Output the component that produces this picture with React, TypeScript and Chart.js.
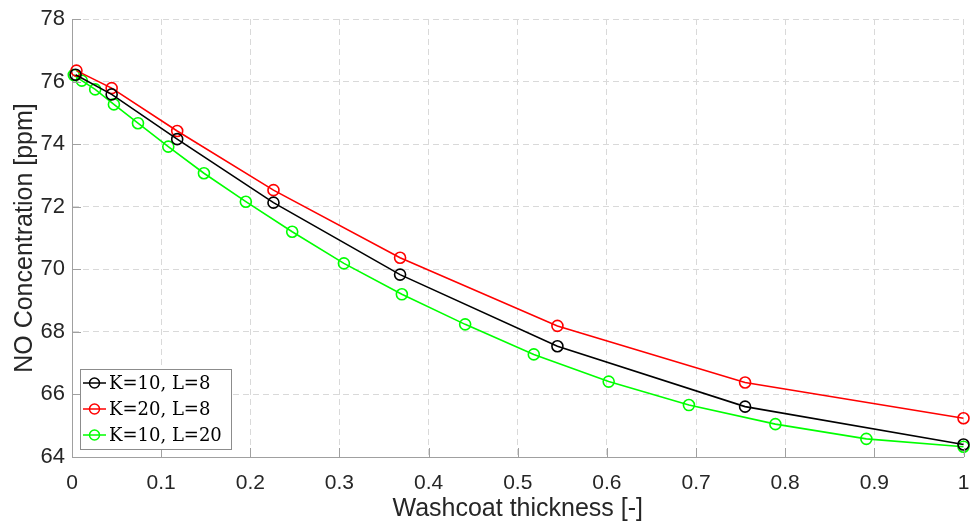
import React, { useEffect, useRef } from "react";
import { Chart, registerables } from "chart.js";

Chart.register(...registerables);

const seriesLabels = ["K=10, L=8", "K=20, L=8", "K=10, L=20"];
const seriesColors = ["#000000", "#ff0000", "#00ff00"];

const blackX = [0.004, 0.0445, 0.118, 0.226, 0.368, 0.5445, 0.755, 1.0];
const blackY = [76.22, 75.59, 74.16, 72.13, 69.83, 67.54, 65.61, 64.4];

const redX = [0.005, 0.0445, 0.118, 0.226, 0.368, 0.5445, 0.755, 1.0];
const redY = [76.35, 75.79, 74.42, 72.53, 70.37, 68.19, 66.38, 65.24];

const greenX = [0.002, 0.011, 0.026, 0.047, 0.074, 0.108, 0.148, 0.195, 0.247, 0.305, 0.37, 0.441, 0.518, 0.602, 0.692, 0.789, 0.891, 1.0];
const greenY = [76.21, 76.03, 75.75, 75.27, 74.67, 73.92, 73.07, 72.16, 71.2, 70.19, 69.2, 68.24, 67.28, 66.41, 65.66, 65.05, 64.58, 64.33];

const xTicks = [0, 0.1, 0.2, 0.3, 0.4, 0.5, 0.6, 0.7, 0.8, 0.9, 1];
const yTicks = [64, 66, 68, 70, 72, 74, 76, 78];

const xTitle = "Washcoat thickness [-]";
const yTitle = "NO Concentration [ppm]";

const AXIS_COLOR = "#a0a0a0";
const TEXT_COLOR = "#262626";
const SANS = "'Liberation Sans', Arial, sans-serif";

const toPts = (xs: number[], ys: number[]) => xs.map((x, i) => ({ x, y: ys[i] }));

const decorPlugin = {
  id: "decor",
  afterDraw(chart: any) {
    const ctx = chart.ctx;
    const { left, right, top, bottom } = chart.chartArea;
    const xs = chart.scales.x;
    const ys = chart.scales.y;
    ctx.save();
    // inward tick marks
    ctx.strokeStyle = AXIS_COLOR;
    ctx.lineWidth = 1;
    ctx.beginPath();
    xTicks.forEach((t) => {
      const px = Math.round(xs.getPixelForValue(t)) + 0.5;
      ctx.moveTo(px, bottom);
      ctx.lineTo(px, bottom - 9);
    });
    yTicks.forEach((t) => {
      const py = Math.round(ys.getPixelForValue(t)) + 0.5;
      ctx.moveTo(left, py);
      ctx.lineTo(left + 9, py);
    });
    ctx.stroke();

    // axis titles
    ctx.fillStyle = TEXT_COLOR;
    ctx.font = `25px ${SANS}`;
    ctx.textAlign = "center";
    ctx.textBaseline = "middle";
    ctx.fillText(xTitle, (left + right) / 2, 509);
    ctx.save();
    ctx.translate(25, (top + bottom) / 2);
    ctx.rotate(-Math.PI / 2);
    ctx.fillText(yTitle, 0, 0);
    ctx.restore();

    // legend
    const bx = 80.5, by = 369.5, bw = 151, bh = 80;
    ctx.fillStyle = "#ffffff";
    ctx.fillRect(bx, by, bw, bh);
    ctx.strokeStyle = "#8c8c8c";
    ctx.lineWidth = 1;
    ctx.strokeRect(bx, by, bw, bh);
    ctx.font = "18px 'DejaVu Serif', serif";
    ctx.textAlign = "left";
    ctx.textBaseline = "middle";
    chart.data.datasets.forEach((ds: any, i: number) => {
      const cy = 383 + i * 26;
      ctx.strokeStyle = ds.borderColor;
      ctx.lineWidth = 1.5;
      ctx.beginPath();
      ctx.moveTo(83, cy);
      ctx.lineTo(106, cy);
      ctx.stroke();
      ctx.beginPath();
      ctx.arc(94.5, cy, 5, 0, Math.PI * 2);
      ctx.stroke();
      ctx.fillStyle = "#000000";
      ctx.fillText(ds.label, 109, cy + 1);
    });
    ctx.restore();
  },
};

export default function App() {
  const ref = useRef<HTMLCanvasElement | null>(null);

  useEffect(() => {
    document.body.style.margin = "0";
    const canvas = ref.current;
    if (!canvas) return;
    const mk = (i: number, xs: number[], ys: number[]) => ({
      label: seriesLabels[i],
      data: toPts(xs, ys),
      borderColor: seriesColors[i],
      backgroundColor: "rgba(0,0,0,0)",
      borderWidth: 1.6,
      pointRadius: 5.5,
      pointBorderWidth: 1.6,
      pointBackgroundColor: "rgba(0,0,0,0)",
      pointBorderColor: seriesColors[i],
      tension: 0,
      clip: false as any,
    });
    const chart = new Chart(canvas, {
      type: "line",
      data: {
        datasets: [mk(0, blackX, blackY), mk(1, redX, redY), mk(2, greenX, greenY)],
      },
      options: {
        animation: false,
        responsive: false,
        maintainAspectRatio: false,
        layout: { padding: { left: 0, top: 19, right: 9.5, bottom: 0 } },
        plugins: { legend: { display: false }, tooltip: { enabled: false } },
        scales: {
          x: {
            type: "linear",
            min: 0,
            max: 1,
            afterBuildTicks: (s: any) => {
              s.ticks = xTicks.map((v) => ({ value: v }));
            },
            afterFit: (s: any) => {
              s.height = 73;
              s.paddingLeft = 0;
              s.paddingRight = 0;
            },
            ticks: {
              color: TEXT_COLOR,
              font: { family: SANS, size: 21 },
              padding: 14,
              maxRotation: 0,
              autoSkip: false,
              callback: (v: any) => (v === 0 || v === 1 ? String(v) : Number(v).toFixed(1)),
            },
            grid: {
              color: "#d9d9d9",
              lineWidth: 1,
              drawTicks: false,
            },
            border: { display: true, color: AXIS_COLOR, width: 1, dash: [6, 4] },
          },
          y: {
            type: "linear",
            min: 64,
            max: 78,
            afterBuildTicks: (s: any) => {
              s.ticks = yTicks.map((v) => ({ value: v }));
            },
            afterFit: (s: any) => {
              s.width = 72;
              s.paddingTop = 0;
              s.paddingBottom = 0;
            },
            ticks: {
              color: TEXT_COLOR,
              font: { family: SANS, size: 22 },
              padding: 7,
              autoSkip: false,
            },
            grid: {
              color: "#d9d9d9",
              lineWidth: 1,
              drawTicks: false,
            },
            border: { display: true, color: AXIS_COLOR, width: 1, dash: [6, 4] },
          },
        },
      } as any,
      plugins: [decorPlugin],
    });
    return () => chart.destroy();
  }, []);

  return (
    <div style={{ position: "fixed", left: 0, top: 0, width: 973, height: 530, background: "#ffffff" }}>
      <canvas ref={ref} width={973} height={530} style={{ display: "block" }} />
    </div>
  );
}
